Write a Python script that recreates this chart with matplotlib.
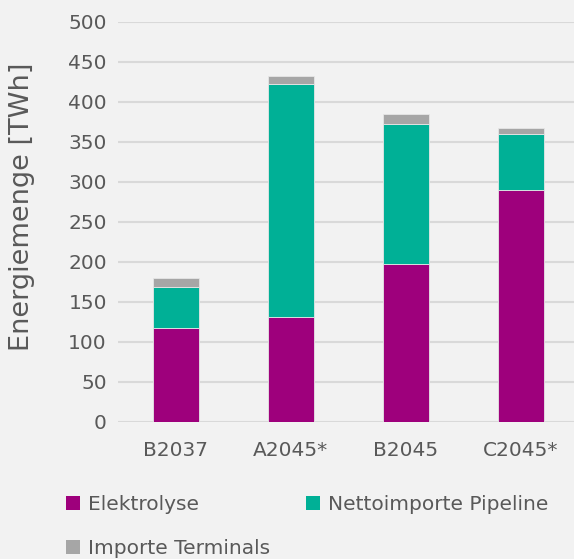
import matplotlib
matplotlib.use("Agg")
import matplotlib.pyplot as plt
from matplotlib.patches import Patch
import numpy as np

# data
scenarios = ["B2037", "A2045*", "B2045", "C2045*"]
elektrolyse = [117.5, 130.5, 197.5, 290]
pipeline = [51, 291.5, 175, 70]
terminals = [11, 10, 11.5, 7]

series_names = ["Elektrolyse", "Nettoimporte Pipeline", "Importe Terminals"]
colors = ["#9e007c", "#00b096", "#a6a6a6"]

TXT = "#595959"
BG = "#f2f2f2"
plt.rcParams["font.family"] = ["DejaVu Sans"]

fig = plt.figure(figsize=(5.74, 5.59), dpi=100, facecolor=BG)
ax = fig.add_axes([118 / 574, (559 - 421.7) / 559, 1 - 118 / 574, 400 / 559])
ax.set_facecolor(BG)

x = np.arange(len(scenarios))
w = 0.4
bottom = np.zeros(len(scenarios))
for vals, col in zip([elektrolyse, pipeline, terminals], colors):
    ax.bar(x, vals, w, bottom=bottom, color=col, edgecolor="#e6e6e6",
           linewidth=0.6, zorder=3)
    bottom += np.array(vals)

ax.set_xlim(-0.5, (574 - 175.7) / 115)
ax.set_ylim(0, 500)
ax.set_yticks(range(0, 501, 50))
ax.set_xticks(x)
ax.set_xticklabels(scenarios)
ax.grid(axis="y", color="#d9d9d9", linewidth=1.5, zorder=0)
for s in ax.spines.values():
    s.set_visible(False)
ax.tick_params(axis="both", length=0, labelsize=14.5, colors=TXT)
ax.tick_params(axis="y", pad=8)
ax.tick_params(axis="x", pad=14)

fig.text(22 / 574, 1 - 207 / 559, "Energiemenge [TWh]", rotation=90,
         ha="center", va="center", fontsize=19.5, color=TXT)

# legend fills column-wise, so order for row-major look
order = [0, 2, 1]
handles = [Patch(facecolor=colors[i], edgecolor="none") for i in order]
labels = [series_names[i] for i in order]
leg = fig.legend(handles, labels, loc="upper left",
                 bbox_to_anchor=(66 / 574, 1 - 495 / 559), ncol=2,
                 frameon=False, fontsize=14.5, handlelength=0.7,
                 handleheight=0.7, handletextpad=0.4, columnspacing=1.75,
                 labelspacing=1.25, borderaxespad=0, borderpad=0)
for t in leg.get_texts():
    t.set_color(TXT)

fig.savefig("out.png", dpi=100, facecolor=BG)
